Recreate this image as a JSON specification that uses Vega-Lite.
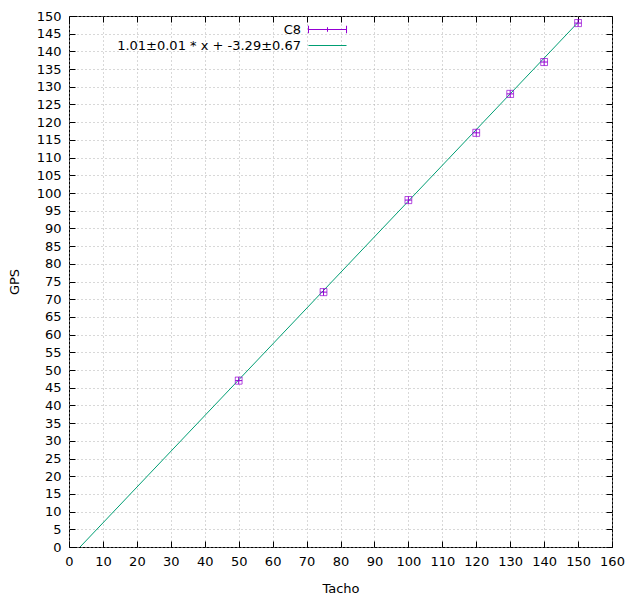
{
  "$schema": "https://vega.github.io/schema/vega-lite/v6.json",
  "width": 543,
  "height": 531,
  "autosize": {"type": "none"},
  "padding": {"left": 69, "top": 16, "right": 25, "bottom": 51},
  "background": "white",
  "datasets": {
    "c8": [
      {"tacho": 50, "gps": 47, "xerr": 1, "yerr": 1},
      {"tacho": 75, "gps": 72, "xerr": 1, "yerr": 1},
      {"tacho": 100, "gps": 98, "xerr": 1, "yerr": 1},
      {"tacho": 120, "gps": 117, "xerr": 1, "yerr": 1},
      {"tacho": 130, "gps": 128, "xerr": 1, "yerr": 1},
      {"tacho": 140, "gps": 137, "xerr": 1, "yerr": 1},
      {"tacho": 150, "gps": 148, "xerr": 1, "yerr": 1}
    ],
    "fit": [
      {"tacho": 3.257, "gps": 0},
      {"tacho": 150, "gps": 148.21}
    ],
    "keys": [
      {"series": "C8"},
      {"series": "1.01±0.01 * x + -3.29±0.67"}
    ]
  },
  "layer": [
    {
      "data": {"name": "fit"},
      "mark": {"type": "line", "color": "#009e73", "strokeWidth": 1},
      "encoding": {
        "x": {
          "field": "tacho", "type": "quantitative",
          "scale": {"domain": [0, 160], "nice": false},
          "axis": {
            "orient": "bottom", "title": "Tacho",
            "values": [0, 10, 20, 30, 40, 50, 60, 70, 80, 90, 100, 110, 120, 130, 140, 150, 160],
            "grid": true, "tickSize": -6, "labelPadding": 14, "titlePadding": 14
          }
        },
        "y": {
          "field": "gps", "type": "quantitative",
          "scale": {"domain": [0, 150], "nice": false},
          "axis": {
            "orient": "left", "title": "GPS",
            "values": [0, 5, 10, 15, 20, 25, 30, 35, 40, 45, 50, 55, 60, 65, 70, 75, 80, 85, 90, 95, 100, 105, 110, 115, 120, 125, 130, 135, 140, 145, 150],
            "grid": true, "tickSize": -6, "labelPadding": 14, "titlePadding": 15
          }
        }
      }
    },
    {
      "data": {"name": "c8"},
      "mark": {"type": "errorbar", "orient": "vertical", "ticks": {"size": 7}, "thickness": 1},
      "encoding": {
        "x": {
          "field": "tacho", "type": "quantitative",
          "axis": {
            "orient": "top", "title": null, "labels": false, "grid": false,
            "values": [0, 10, 20, 30, 40, 50, 60, 70, 80, 90, 100, 110, 120, 130, 140, 150, 160],
            "tickSize": -6
          }
        },
        "y": {
          "field": "gps", "type": "quantitative",
          "axis": {
            "orient": "right", "title": null, "labels": false, "grid": false,
            "values": [0, 5, 10, 15, 20, 25, 30, 35, 40, 45, 50, 55, 60, 65, 70, 75, 80, 85, 90, 95, 100, 105, 110, 115, 120, 125, 130, 135, 140, 145, 150],
            "tickSize": -6
          }
        },
        "yError": {"field": "yerr"},
        "color": {"value": "#9400d3"}
      }
    },
    {
      "data": {"name": "c8"},
      "mark": {"type": "errorbar", "orient": "horizontal", "ticks": {"size": 7}, "thickness": 1},
      "encoding": {
        "x": {"field": "tacho", "type": "quantitative", "axis": null},
        "xError": {"field": "xerr"},
        "y": {"field": "gps", "type": "quantitative", "axis": null},
        "color": {"value": "#9400d3"}
      }
    },
    {
      "data": {"name": "keys"},
      "transform": [{"filter": "datum.series == null"}],
      "mark": {"type": "point", "filled": false, "strokeWidth": 1},
      "encoding": {
        "color": {
          "field": "series", "type": "nominal",
          "scale": {
            "domain": ["C8", "1.01±0.01 * x + -3.29±0.67"],
            "range": ["#9400d3", "#009e73"]
          },
          "legend": {
            "title": null, "orient": "none", "legendX": 252, "legendY": 7,
            "labelAlign": "right", "labelOffset": -33, "labelLimit": 400,
            "rowPadding": 2, "padding": 0,
            "symbolSize": 144, "symbolStrokeWidth": 1, "symbolOpacity": 1,
            "symbolFillColor": "transparent"
          }
        },
        "shape": {
          "field": "series", "type": "nominal",
          "scale": {
            "domain": ["C8", "1.01±0.01 * x + -3.29±0.67"],
            "range": ["M-3.17,0H3.17M-3.17,-0.63V0.63M3.17,-0.63V0.63M0,-0.38V0.38", "M-3.17,0H3.17"]
          },
          "legend": null
        }
      }
    }
  ],
  "resolve": {"axis": {"x": "independent", "y": "independent"}},
  "config": {
    "font": "DejaVu Sans",
    "view": {"stroke": "black", "strokeWidth": 1},
    "axis": {
      "domain": false,
      "tickColor": "black",
      "tickWidth": 1,
      "labelColor": "black",
      "labelFontSize": 13,
      "labelOverlap": false,
      "labelFlush": false,
      "titleColor": "black",
      "titleFontSize": 13,
      "titleFontWeight": "normal",
      "gridColor": "#b0b0b0",
      "gridDash": [1, 3],
      "gridWidth": 1
    },
    "legend": {
      "labelFontSize": 13,
      "labelColor": "black"
    }
  }
}
